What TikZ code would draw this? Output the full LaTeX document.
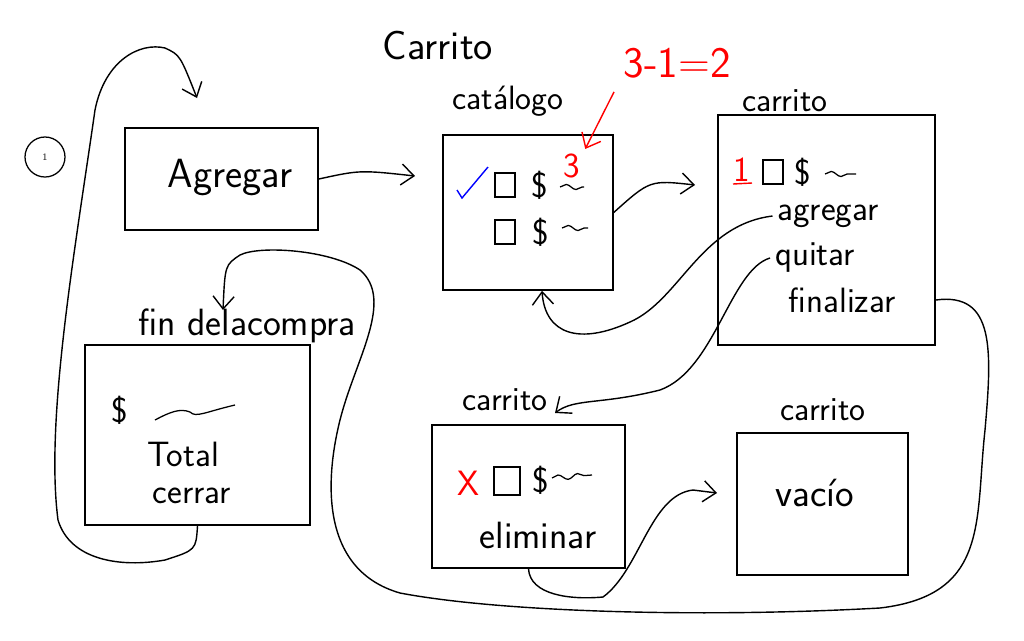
\documentclass[tikz,border=0pt]{standalone}
\usetikzlibrary{arrows.meta,decorations.pathmorphing}
\tikzset{
  box/.style={draw, line width=1pt},
  chk/.style={draw, line width=0.9pt, minimum width=0.5cm, minimum height=0.6cm, inner sep=0pt},
  lbl/.style={font=\sffamily\fontsize{24}{24}\selectfont},
  item/.style={font=\sffamily\fontsize{25}{25}\selectfont},
  conn/.style={line width=1pt, -{Straight Barb[length=9pt, width=15pt]}},
  sq/.style={line width=0.9pt, decorate, decoration={snake, amplitude=1.8pt, segment length=14pt}}
}
\begin{document}
\begin{tikzpicture}[x=0.025cm, y=-0.025cm]
  \useasboundingbox (0,0) rectangle (1024,640);
  \node[font=\sffamily\fontsize{29}{29}\selectfont] (titulo) at (438,45) {Carrito};
  \node[circle, draw, line width=0.9pt, minimum size=1cm, inner sep=0pt] (uno) at (45,157) {\fontsize{7}{7}\selectfont 1};

  % pantallas
  \node[box, minimum width=4.83cm, minimum height=2.55cm] (agregar) at (221.5,179) {};
  \node[font=\sffamily\fontsize{29}{29}\selectfont] (tagr) at (230,178) {Agregar};

  \node[box, minimum width=4.25cm, minimum height=3.88cm] (catalogo) at (528,212.5) {};
  \node[lbl] (tcat) at (508,101) {catálogo};
  \node[chk] (cat1) at (505,185) {};
  \node[item] (dcat1) at (540,185) {\$};
  \node[item, red] (n3) at (572,166) {3};
  \draw[sq] (560,187) -- (584,187);
  \node[chk] (cat2) at (505,232) {};
  \node[item] (dcat2) at (541,232) {\$};
  \draw[sq] (562,228) -- (588,228);
  \draw[blue, line width=1pt] (457,190) -- (462,198) -- (488,167);
  \node[font=\sffamily\fontsize{31}{31}\selectfont, red] (resta) at (677,63) {3-1=2};

  \node[box, minimum width=5.43cm, minimum height=5.75cm] (car1) at (826.5,230) {};
  \node[lbl] (tcar1) at (785,101) {carrito};
  \node[item, red] (n1) at (742,170) {1};
  \draw[red, line width=1pt] (733,184) -- (752,183);
  \node[chk] (car1c) at (773,172) {};
  \node[item] (dcar1) at (803,172) {\$};
  \draw[sq] (825,174) -- (856,174);
  \node[item] (iagr) at (828,216) {agregar};
  \node[item] (iquit) at (815,258) {quitar};
  \node[item] (ifin) at (842,300) {finalizar};

  \node[box, minimum width=5.63cm, minimum height=4.5cm] (fin) at (197.5,435) {};
  \node[font=\sffamily\fontsize{27}{27}\selectfont] (tfin) at (247,326) {fin delacompra};
  \node[item] (dfin) at (120,410) {\$};
  \draw[line width=0.9pt] (155,420) .. controls (170,412) and (180,408) .. (190,412) .. controls (196,418) and (205,412) .. (235,405);
  \node[item] (total) at (183,454) {Total};
  \node[item] (cerrar) at (192,496) {cerrar};

  \node[box, minimum width=4.83cm, minimum height=3.58cm] (elim) at (528.5,496.5) {};
  \node[lbl] (telim) at (505,400) {carrito};
  \node[item, red] (x) at (468,483) {X};
  \node[chk, minimum width=0.65cm, minimum height=0.7cm] (elimc) at (507,481) {};
  \node[item] (delim) at (541,480) {\$};
  \draw[sq] (552,478) -- (592,475);
  \node[font=\sffamily\fontsize{27}{27}\selectfont] (ielim) at (538,535) {eliminar};

  \node[box, minimum width=4.28cm, minimum height=3.55cm] (vacio) at (822.5,504) {};
  \node[lbl] (tvac) at (823,410) {carrito};
  \node[font=\sffamily\fontsize{28}{28}\selectfont] (ivac) at (815,493) {vacío};

  % puntas libres
  \coordinate (agrIn) at (197,98);
  \coordinate (catIn) at (415,176);
  \coordinate (car1In) at (695,185);
  \coordinate (elimIn) at (555,413);
  \coordinate (finIn) at (223,310);
  \coordinate (vacIn) at (717,493);

  \draw[conn] (fin.south) .. controls (196,550) .. (165,560) .. controls (120,568) and (70,560) .. (58,520)
    .. controls (45,420) and (75,250) .. (95,110) .. controls (105,60) and (140,42) .. (165,48) .. controls (180,55) .. (agrIn);
  \draw[conn] (agregar.east) .. controls (360,170) .. (catIn);
  \draw[conn] (catalogo.east) .. controls (650,180) .. (car1In);
  \draw[conn, red, shorten <=0.25cm] (resta.south west) -- (n3.north east);
  \draw[conn] (iagr.west) .. controls (700,225) and (680,300) .. (630,322) .. controls (580,345) and (545,335) .. ([xshift=0.35cm]catalogo.south);
  \draw[conn] (iquit.west) .. controls (730,270) and (715,370) .. (660,390) .. controls (600,405) and (575,398) .. (elimIn);
  \draw[conn] (car1.east |- ifin.east) .. controls (995,292) and (992,350) .. (985,430) .. controls (975,520) and (990,595) .. (880,608)
    .. controls (700,618) and (500,612) .. (400,593) .. controls (320,570) and (325,480) .. (340,420)
    .. controls (355,360) and (395,300) .. (360,270) .. controls (330,250) and (260,245) .. (240,255) .. controls (225,265) .. (finIn);
  \draw[conn] (elim.south) .. controls (530,595) and (570,600) .. (603,597) .. controls (640,570) and (650,495) .. (693,490) -- (vacIn);
\end{tikzpicture}
\end{document}
